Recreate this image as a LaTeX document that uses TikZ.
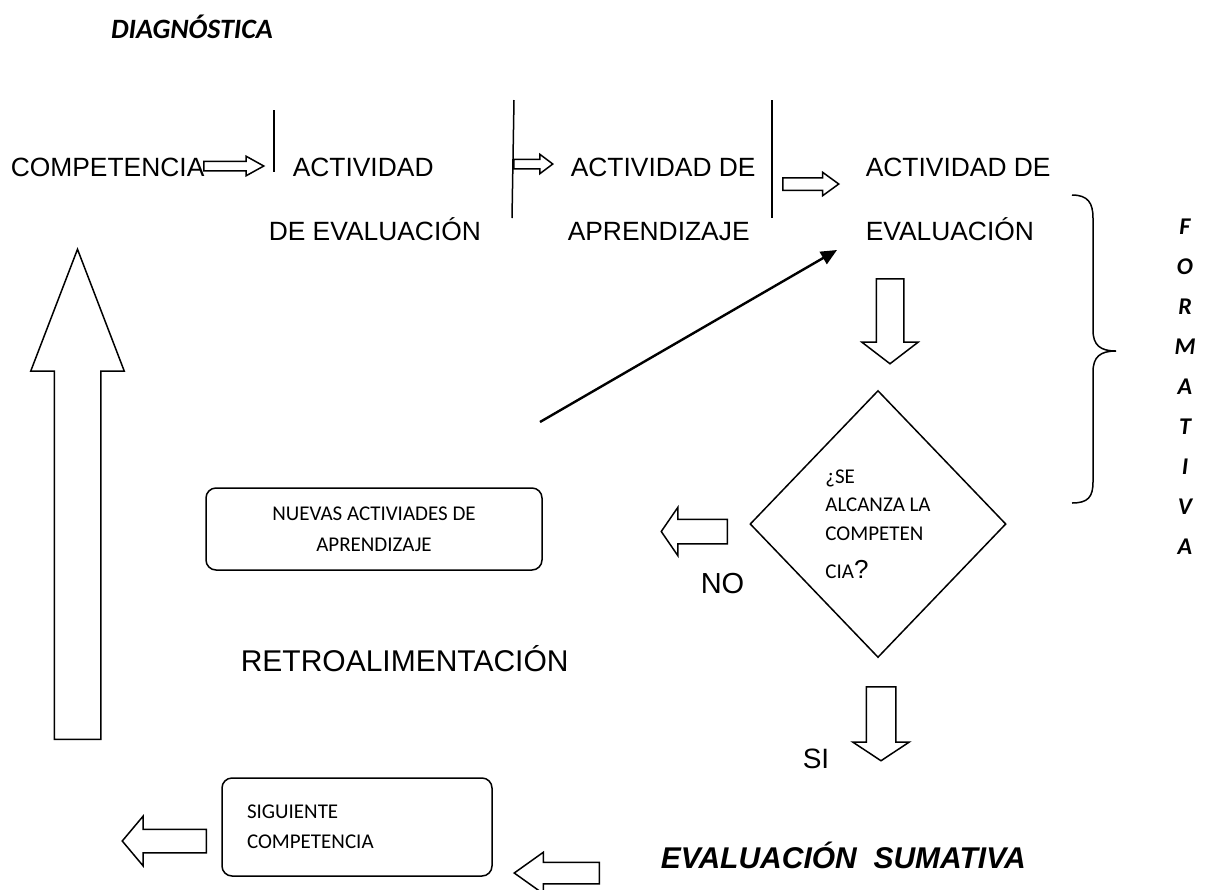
\documentclass[tikz,border=0pt]{standalone}
\usepackage{fontspec}
\setmainfont{Liberation Sans}
\newfontfamily\calibri{Carlito}
\usetikzlibrary{shapes.geometric}
\usetikzlibrary{shapes.arrows}
\usetikzlibrary{arrows.meta}

\tikzset{
  lbl/.style={inner sep=0pt, anchor=base west, font=\fontsize{13.2}{16}\selectfont},
  big/.style={inner sep=0pt, anchor=base west, font=\fontsize{14.5}{17}\selectfont},
  small/.style={font=\calibri\fontsize{10.5}{15.5}\selectfont},
  title/.style={inner sep=0pt, font=\calibri\bfseries\itshape\fontsize{14}{17}\selectfont},
  hollow/.style n args={4}{single arrow, draw, inner xsep=0pt, inner ysep=#2, anchor=tail,
    minimum height=#1, single arrow head extend=#3, single arrow tip angle=#4},
  roundbox/.style={draw, rounded corners=5pt, inner sep=0pt},
}

\begin{document}
\begin{tikzpicture}[x=0.5pt, y=-0.5pt, line width=0.75pt]
\useasboundingbox (0,0) rectangle (1212,890);

\node (diag) [title] at (192,27) {DIAGNÓSTICA};

% first row
\node (comp) [lbl] at (10,176) {COMPETENCIA};
\node (act1a) [lbl] at (292,176) {ACTIVIDAD};
\node (act1b) [lbl] at (268,240) {DE EVALUACIÓN};
\node (act2a) [lbl] at (570,176) {ACTIVIDAD DE};
\node (act2b) [lbl] at (567,240) {APRENDIZAJE};
\node (act3a) [lbl] at (865,176) {ACTIVIDAD DE};
\node (act3b) [lbl] at (865,240) {EVALUACIÓN};

\draw (274,110) -- (274,172);
\draw (514,100) -- (512,218);
\draw (772,100) -- (772,218);

\node (arr1) [hollow={30pt}{2pt}{2.5pt}{58}] at (203,166) {};
\node (arr2) [hollow={19.5pt}{2pt}{2.5pt}{74}] at (513,164) {};
\node (arr3) [hollow={28pt}{2.75pt}{2.75pt}{72}] at (782,184) {};

% formativa
\draw (1072,195) .. controls (1088,195) and (1093,203) .. (1093,218) -- (1093,330)
  .. controls (1093,345) and (1100,351) .. (1116,351)
  .. controls (1100,351) and (1093,357) .. (1093,372) -- (1093,482)
  .. controls (1093,497) and (1088,503) .. (1072,503);
\node (form) [title, align=center, font=\calibri\bfseries\itshape\fontsize{12}{20}\selectfont] at (1185,387) {F\\O\\R\\M\\A\\T\\I\\V\\A};

\node (down1) [hollow={42.5pt}{6.5pt}{7.25pt}{105}, rotate=-90] at (890,278) {};
\node (decision) [diamond, draw, minimum width=128pt, minimum height=133.5pt, inner sep=0pt, align=left,
  font=\calibri\fontsize{10.5}{14.25}\selectfont] at (878,524)
  {¿SE\\ALCANZA LA\\COMPETEN\\[5pt]CIA{\normalfont\fontsize{13}{14}\selectfont ?}};

\node (noarr) [hollow={33pt}{5.75pt}{6pt}{111}, rotate=180] at (728,531.5) {};
\node (no) [big] at (700,593) {NO};
\node (nuevas) [roundbox, small, align=center, minimum width=168pt, minimum height=41pt] at (374,529)
  {NUEVAS ACTIVIADES DE\\APRENDIZAJE};

\coordinate (fbstart) at (540,422);
\coordinate (fbend) at (837,250);
\draw [line width=1.2pt, -{Triangle[length=8pt,width=7pt]}] (fbstart) -- (fbend);

\node (retro) [big, font=\fontsize{15}{18}\selectfont] at (240,671) {RETROALIMENTACIÓN};

\node (down2) [hollow={37pt}{7pt}{6.75pt}{113}, rotate=-90] at (881,686) {};
\node (si) [big, font=\fontsize{14}{17}\selectfont] at (802,768) {SI};

\node (up) [hollow={245pt}{11.25pt}{11.75pt}{42}, rotate=90] at (77.5,740) {};

% bottom row
\node (sumat) [inner sep=0pt, anchor=base west, font=\bfseries\itshape\fontsize{15}{18}\selectfont] at (660,868)
  {EVALUACIÓN\ \ SUMATIVA};
\node (botarr) [hollow={42.5pt}{5pt}{5pt}{71}, rotate=180] at (600,873) {};
\node (sig) [roundbox, small, align=left, text width=110pt, inner xsep=12.5pt, minimum height=49pt,
  font=\calibri\fontsize{10.5}{15}\selectfont] at (357,827) {SIGUIENTE\\COMPETENCIA};
\node (leftarr) [hollow={42pt}{5.5pt}{6.5pt}{100}, rotate=180] at (207,841) {};

\end{tikzpicture}
\end{document}
